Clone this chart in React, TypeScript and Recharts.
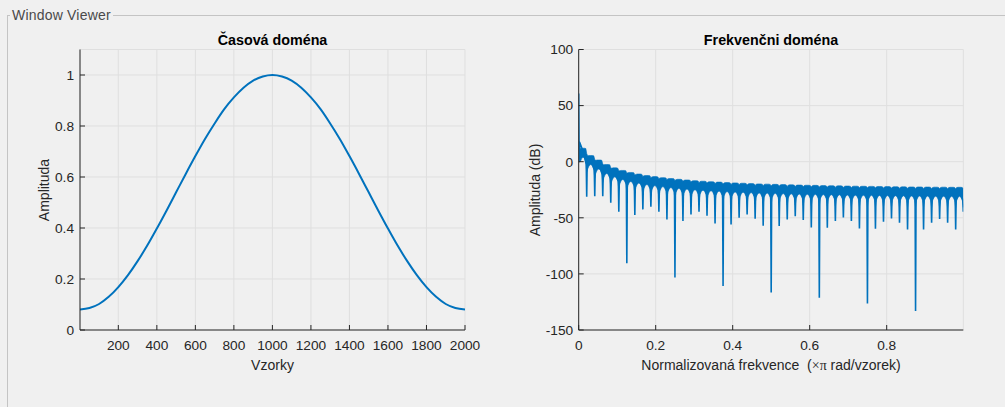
import React from 'react';
import { LineChart, ComposedChart, Line, Area, XAxis, YAxis, CartesianGrid } from 'recharts';

// ---------- Time domain (Časová doména) ----------
const timeSamples = [
  1, 50, 100, 150, 200, 250, 300, 350, 400, 450, 500, 550, 600, 650, 700, 750, 800, 850, 900, 950,
  1000, 1050, 1100, 1150, 1200, 1250, 1300, 1350, 1400, 1450, 1500, 1550, 1600, 1650, 1700, 1750, 1800, 1850, 1900, 1950, 2000,
];
const timeAmplitude = [
  0.08, 0.086, 0.102, 0.13, 0.168, 0.215, 0.27, 0.331, 0.398, 0.468, 0.54, 0.612, 0.682, 0.749, 0.81, 0.866, 0.912, 0.95, 0.978, 0.994,
  1.0, 0.994, 0.978, 0.95, 0.912, 0.866, 0.81, 0.749, 0.682, 0.612, 0.54, 0.468, 0.398, 0.331, 0.27, 0.215, 0.168, 0.13, 0.102, 0.086, 0.08,
];
const timeXTicks = [200, 400, 600, 800, 1000, 1200, 1400, 1600, 1800, 2000];
const timeYTicks = [0, 0.2, 0.4, 0.6, 0.8, 1];

// ---------- Frequency domain (Frekvenční doména) ----------
const freqXTicks = [0, 0.2, 0.4, 0.6, 0.8];
const freqYTicks = [-150, -100, -50, 0, 50, 100];
const mainLobeFreq = [0, 0.0011, 0.0022];
const mainLobeDb = [60.7, 0, 17.5];
const dipFreq = [
  0.0208, 0.0417, 0.0625, 0.0833, 0.1042, 0.125, 0.1458, 0.1667, 0.1875, 0.2083, 0.2292, 0.25,
  0.2708, 0.2917, 0.3125, 0.3333, 0.3542, 0.375, 0.3958, 0.4167, 0.4375, 0.4583, 0.4792, 0.5,
  0.5208, 0.5417, 0.5625, 0.5833, 0.6042, 0.625, 0.6458, 0.6667, 0.6875, 0.7083, 0.7292, 0.75,
  0.7708, 0.7917, 0.8125, 0.8333, 0.8542, 0.875, 0.8958, 0.9167, 0.9375, 0.9583, 0.9792,
];
const dipDb = [
  -31.3, -30.7, -30.7, -36.6, -44.6, -90.6, -47.6, -42.5, -40.2, -44.6, -51.4, -103.1,
  -52.9, -47.0, -44.6, -48.2, -55.0, -110.8, -55.9, -50.0, -47.0, -50.9, -57.1, -116.5,
  -57.4, -51.4, -48.5, -52.0, -58.6, -121.2, -58.9, -52.9, -49.7, -52.9, -59.5, -126.3,
  -59.8, -53.5, -50.5, -54.4, -60.4, -133.1, -60.4, -54.4, -51.1, -54.4, -60.4,
];
const lobeTopDb = [
  12, 5.5, 1.5, -2.5, -5.5, -7.8, -9.6, -11, -12.3, -13.3, -14.2, -15,
  -15.7, -16.3, -16.9, -17.4, -17.8, -18.2, -18.6, -18.9, -19.2, -19.5, -19.8, -20.0,
  -20.2, -20.4, -20.6, -20.8, -21.0, -21.1, -21.3, -21.4, -21.5, -21.7, -21.8, -21.9,
  -22.0, -22.1, -22.2, -22.3, -22.4, -22.5, -22.5, -22.6, -22.7, -22.7, -22.8, -22.8,
];
const edgeFreq = 0.999;
const edgeDb = -44.6;
// thickness profile of the dense band inside one lobe (fraction of lobe, dB below lobe top)
const bandOffsets = [0, 0.12, 0.3, 0.5, 0.7, 0.88, 1];
const bandLowDrop = [18, 12, 9, 8, 9, 12, 18];
const bandHighDrop = [1.5, 0.3, 0, 0, 0, 0.3, 1.5];

const BLUE = '#0072BD';
const AXIS = '#262626';
const GRID = '#dfdfdf';
const FONT = '"Liberation Sans", Arial, sans-serif';

const timeData = timeSamples.map((n, i) => ({ n, a: timeAmplitude[i] }));

const lobeEdges = [mainLobeFreq[2], ...dipFreq, edgeFreq];
const edgeTop = lobeEdges.map((_, i) =>
  i === 0 ? mainLobeDb[2] : i === lobeEdges.length - 1 ? lobeTopDb[lobeTopDb.length - 1] : (lobeTopDb[i - 1] + lobeTopDb[i]) / 2
);

const bandData: { f: number; range: [number, number] }[] = [];
for (let j = 0; j < lobeTopDb.length; j++) {
  const a = lobeEdges[j];
  const b = lobeEdges[j + 1];
  const last = bandOffsets.length - 1;
  for (let i = j === 0 ? 0 : 1; i <= last; i++) {
    const f = a + (b - a) * bandOffsets[i];
    const top = i === 0 ? edgeTop[j] : i === last ? edgeTop[j + 1] : lobeTopDb[j];
    bandData.push({ f, range: [top - bandLowDrop[i], top - bandHighDrop[i]] });
  }
}

const EPS = 0.0012;
const spikeData: { f: number; db: number }[] = [];
mainLobeFreq.forEach((f, i) => spikeData.push({ f, db: mainLobeDb[i] }));
for (let j = 0; j < lobeTopDb.length; j++) {
  spikeData.push({ f: (lobeEdges[j] + lobeEdges[j + 1]) / 2, db: lobeTopDb[j] - 3 });
  if (j < dipFreq.length) {
    const d = dipFreq[j];
    const lvl = edgeTop[j + 1] - 11;
    spikeData.push({ f: d - EPS, db: lvl });
    spikeData.push({ f: d, db: dipDb[j] });
    spikeData.push({ f: d + EPS, db: lvl });
  } else {
    spikeData.push({ f: edgeFreq - EPS, db: edgeTop[j + 1] - 11 });
    spikeData.push({ f: edgeFreq, db: edgeDb });
  }
}

const tickStyle = { fill: AXIS, fontSize: 13.7, fontFamily: FONT };

const textBase: React.CSSProperties = {
  position: 'absolute',
  fontFamily: FONT,
  color: AXIS,
  whiteSpace: 'pre',
  lineHeight: '16px',
};

function Title({ cx, cy, children }: { cx: number; cy: number; children: React.ReactNode }) {
  return (
    <div style={{ ...textBase, left: cx, top: cy, transform: 'translate(-50%, -50%)', fontWeight: 'bold', fontSize: 14.3, color: '#000' }}>
      {children}
    </div>
  );
}
function XLabel({ cx, cy, children }: { cx: number; cy: number; children: React.ReactNode }) {
  return (
    <div style={{ ...textBase, left: cx, top: cy, transform: 'translate(-50%, -50%)', fontSize: 14 }}>{children}</div>
  );
}
function YLabel({ cx, cy, children }: { cx: number; cy: number; children: React.ReactNode }) {
  return (
    <div style={{ ...textBase, left: cx, top: cy, transform: 'translate(-50%, -50%) rotate(-90deg)', fontSize: 14 }}>
      {children}
    </div>
  );
}

export default function App() {
  return (
    <div style={{ position: 'absolute', left: 0, top: 0, width: 1005, height: 407, background: '#f0f0f0', overflow: 'hidden' }}>
      {/* group box */}
      <div style={{ position: 'absolute', left: 7, top: 15, width: 1010, height: 400, borderLeft: '1px solid #c4c4c4', borderTop: '1px solid #c4c4c4' }} />
      <div
        style={{
          position: 'absolute', left: 10, top: 7, height: 16, lineHeight: '16px', padding: '0 2px',
          background: '#f0f0f0', fontFamily: FONT, fontSize: 14, color: '#4a4a4a', letterSpacing: 0.2, whiteSpace: 'pre',
        }}
      >
        Window Viewer
      </div>

      {/* time domain */}
      <div style={{ position: 'absolute', left: 0, top: 0 }}>
        <LineChart width={490} height={390} data={timeData} margin={{ top: 49.5, right: 25, bottom: 30, left: 20 }}>
          <CartesianGrid stroke={GRID} strokeWidth={1} />
          <XAxis dataKey="n" type="number" domain={[1, 2000]} ticks={timeXTicks} interval={0} height={30}
            tick={tickStyle} tickSize={-5} tickMargin={15} stroke={AXIS} axisLine={{ stroke: AXIS }} tickLine={{ stroke: AXIS }} allowDataOverflow />
          <XAxis xAxisId="top" orientation="top" type="number" domain={[1, 2000]} ticks={timeXTicks} interval={0} height={0}
            tick={false} tickSize={-5} axisLine={{ stroke: AXIS }} tickLine={{ stroke: AXIS }} />
          <YAxis type="number" domain={[0, 1.1]} ticks={timeYTicks} interval={0} width={60}
            tick={tickStyle} tickSize={-5} tickMargin={11} axisLine={{ stroke: AXIS }} tickLine={{ stroke: AXIS }} allowDataOverflow />
          <YAxis yAxisId="right" orientation="right" type="number" domain={[0, 1.1]} ticks={timeYTicks} interval={0} width={0}
            tick={false} tickSize={-5} axisLine={{ stroke: AXIS }} tickLine={{ stroke: AXIS }} />
          <Line type="monotone" dataKey="a" stroke={BLUE} strokeWidth={2} dot={false} isAnimationActive={false} />
        </LineChart>
      </div>

      {/* frequency domain */}
      <div style={{ position: 'absolute', left: 500, top: 0 }}>
        <ComposedChart width={490} height={390} margin={{ top: 49.5, right: 26.7, bottom: 30, left: 18.7 }}>
          <CartesianGrid stroke={GRID} strokeWidth={1} />
          <XAxis dataKey="f" type="number" domain={[0, 0.999]} ticks={freqXTicks} interval={0} height={30}
            tick={tickStyle} tickSize={-5} tickMargin={15} axisLine={{ stroke: AXIS }} tickLine={{ stroke: AXIS }} allowDataOverflow />
          <XAxis xAxisId="top" orientation="top" type="number" domain={[0, 0.999]} ticks={freqXTicks} interval={0} height={0}
            tick={false} tickSize={-5} axisLine={{ stroke: AXIS }} tickLine={{ stroke: AXIS }} />
          <YAxis type="number" domain={[-150, 100]} ticks={freqYTicks} interval={0} width={60}
            tick={tickStyle} tickSize={-5} tickMargin={10.5} axisLine={{ stroke: AXIS }} tickLine={{ stroke: AXIS }} allowDataOverflow />
          <YAxis yAxisId="right" orientation="right" type="number" domain={[-150, 100]} ticks={freqYTicks} interval={0} width={0}
            tick={false} tickSize={-5} axisLine={{ stroke: AXIS }} tickLine={{ stroke: AXIS }} />
          <Area data={bandData} dataKey="range" type="linear" fill={BLUE} fillOpacity={1} stroke={BLUE} strokeWidth={0.6}
            dot={false} activeDot={false} isAnimationActive={false} />
          <Line data={spikeData} dataKey="db" type="linear" stroke={BLUE} strokeWidth={1.6} dot={false} isAnimationActive={false} />
        </ComposedChart>
      </div>

      <Title cx={272.5} cy={39.5}>Časová doména</Title>
      <Title cx={771} cy={39.5}>Frekvenčni doména</Title>
      <XLabel cx={272.5} cy={364.5}>Vzorky</XLabel>
      <XLabel cx={771} cy={364.5}>
        {'Normalizovaná frekvence  ('}
        <span style={{ fontFamily: '"Liberation Serif", serif' }}>×π</span>
        {' rad/vzorek)'}
      </XLabel>
      <YLabel cx={44} cy={190}>Amplituda</YLabel>
      <YLabel cx={535} cy={189.5}>Amplituda (dB)</YLabel>
    </div>
  );
}
